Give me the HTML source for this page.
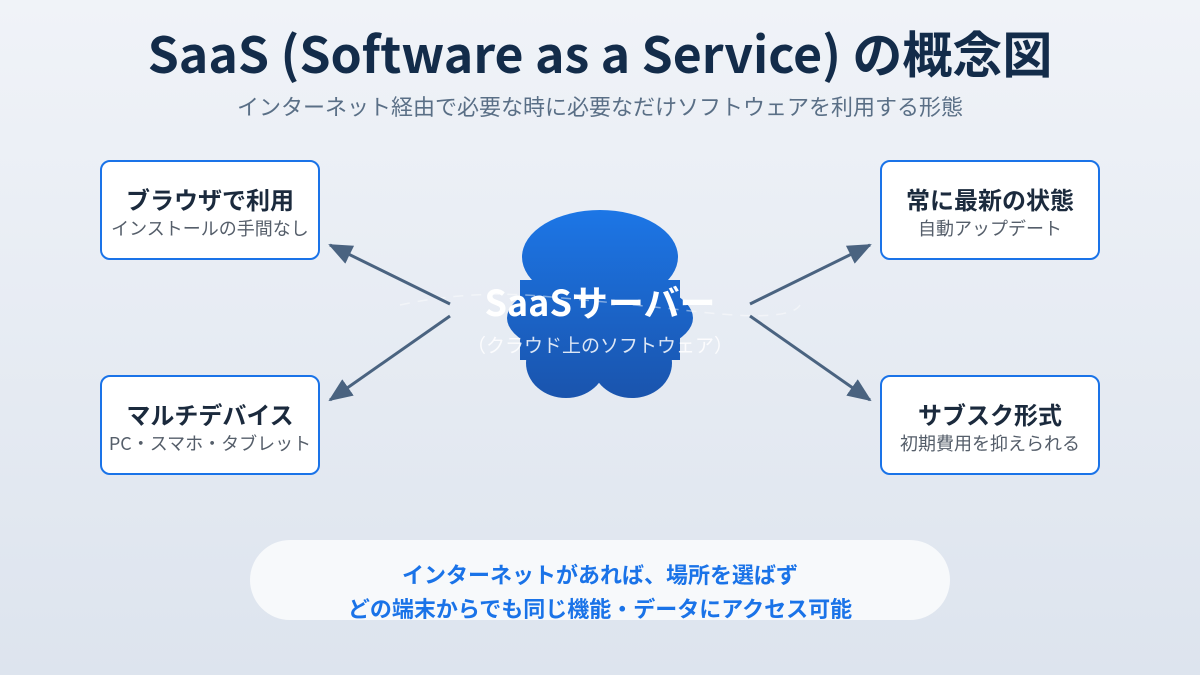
<!DOCTYPE html>
<html><head><meta charset="utf-8"><style>
*{margin:0;padding:0;box-sizing:border-box}
body{width:1200px;height:675px;overflow:hidden;background:linear-gradient(180deg,#f0f3f8,#dde4ee);font-family:"Noto Sans CJK JP","Liberation Sans",sans-serif;position:relative}
.t{position:absolute;left:0;width:1200px;text-align:center}
.box{position:absolute;width:220px;height:100px;background:#fff;border:2px solid #1a73e8;border-radius:10px;text-align:center}
.box b{display:block;margin-top:20px;font-size:24px;line-height:34px;color:#1b2a3d}
.box span{display:block;margin-top:0px;font-size:18px;line-height:24px;color:#555e6a}
</style></head><body>
<div class="t" style="top:17px;font-size:50px;line-height:70px;font-weight:bold;color:#132c4a">SaaS (Software as a Service) の概念図</div>
<div class="t" style="top:90px;font-size:22px;line-height:32px;color:#5a6f86">インターネット経由で必要な時に必要なだけソフトウェアを利用する形態</div>
<svg style="position:absolute;left:0;top:0" width="1200" height="675">
<defs><linearGradient id="g" gradientUnits="userSpaceOnUse" x1="0" y1="210" x2="0" y2="398"><stop offset="0" stop-color="#1c76e6"/><stop offset="1" stop-color="#1a54ad"/></linearGradient>
<marker id="a" markerWidth="24" markerHeight="20" refX="22" refY="10" orient="auto" markerUnits="userSpaceOnUse" viewBox="0 0 24 20"><path d="M0,0L24,10L0,20z" fill="#4a6380"/></marker></defs>
<g fill="url(#g)">
<ellipse cx="600" cy="257" rx="78" ry="47"/>
<ellipse cx="600" cy="318" rx="93" ry="40"/>
<ellipse cx="566" cy="363" rx="40" ry="35"/>
<ellipse cx="632" cy="363" rx="40" ry="35"/>
<rect x="520" y="280" width="160" height="80"/>
</g>
<path d="M400,305 Q470,290 540,296 T700,312 T800,305" fill="none" stroke="#fff" stroke-opacity=".45" stroke-width="1.5" stroke-dasharray="10,8"/>
<g stroke="#4a6380" stroke-width="3" marker-end="url(#a)">
<line x1="450" y1="304" x2="330" y2="245"/>
<line x1="450" y1="316" x2="330" y2="400"/>
<line x1="750" y1="304" x2="870" y2="245"/>
<line x1="750" y1="316" x2="870" y2="400"/>
</g>
</svg>
<div class="t" style="top:276px;font-size:36px;line-height:50px;font-weight:bold;color:#fff">SaaSサーバー</div>
<div class="t" style="top:331px;font-size:19px;line-height:28px;color:rgba(255,255,255,.85)">（クラウド上のソフトウェア）</div>
<div class="box" style="left:100px;top:160px"><b>ブラウザで利用</b><span>インストールの手間なし</span></div>
<div class="box" style="left:100px;top:375px"><b>マルチデバイス</b><span>PC・スマホ・タブレット</span></div>
<div class="box" style="left:880px;top:160px"><b>常に最新の状態</b><span>自動アップデート</span></div>
<div class="box" style="left:880px;top:375px"><b>サブスク形式</b><span>初期費用を抑えられる</span></div>
<div style="position:absolute;left:250px;top:540px;width:700px;height:80px;background:#f7f9fb;border-radius:40px;text-align:center;color:#1a73e8;font-weight:bold;font-size:22px;line-height:34px;padding-top:17px">インターネットがあれば、場所を選ばず<br>どの端末からでも同じ機能・データにアクセス可能</div>
</body></html>
